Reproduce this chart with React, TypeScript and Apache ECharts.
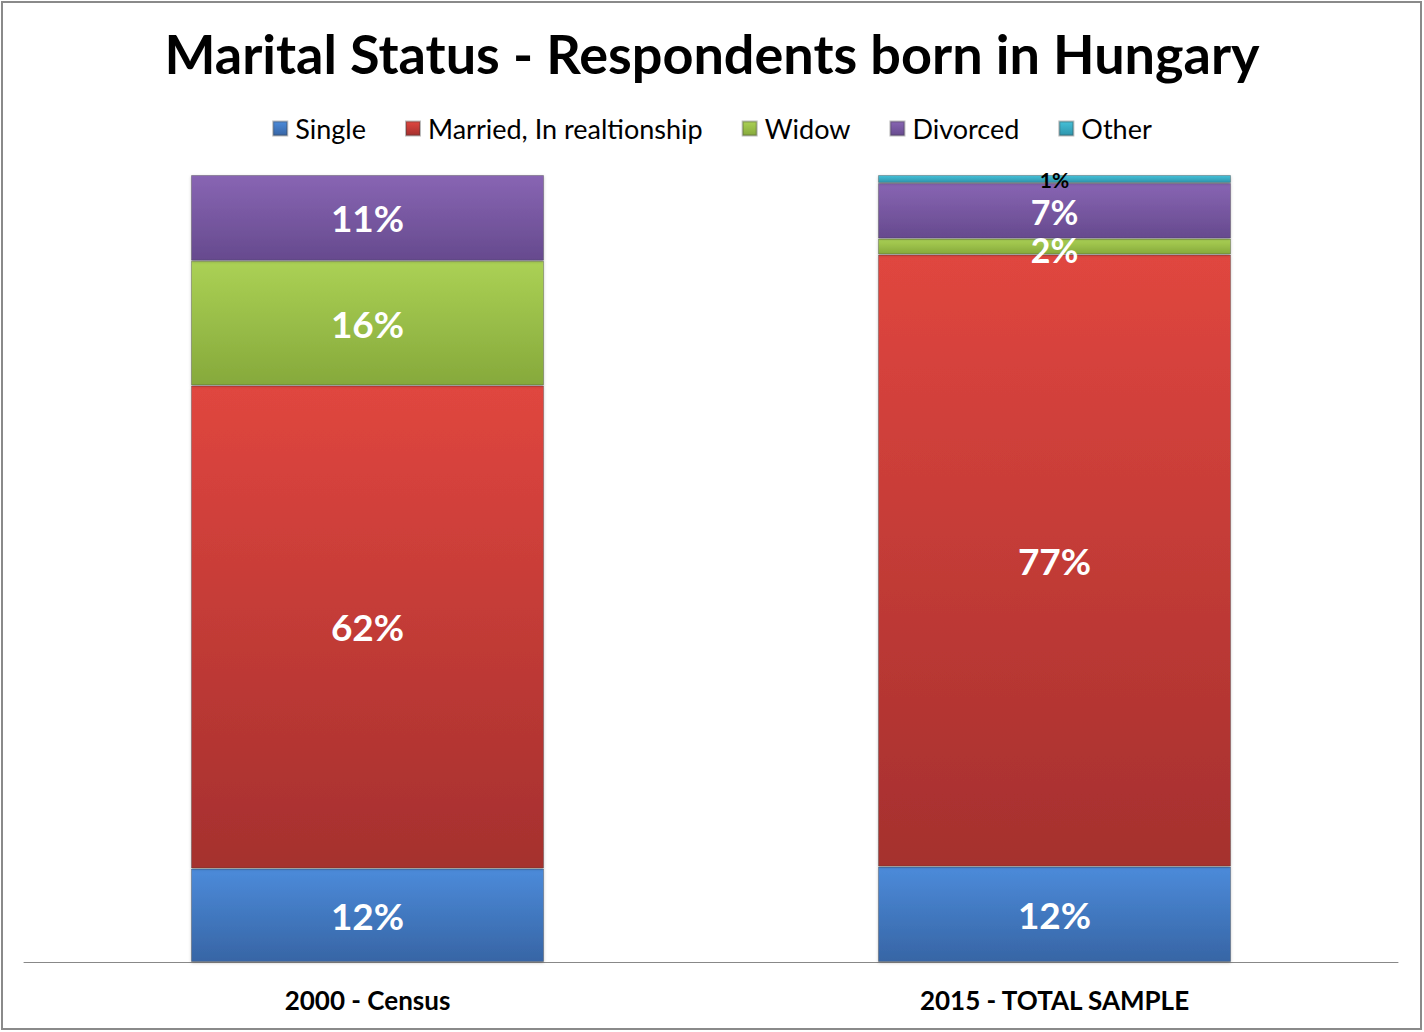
import React, { useEffect, useRef } from "react";
import * as echarts from "echarts";

const categories = ["2000 - Census", "2015 - TOTAL SAMPLE"];
const seriesNames = ["Single", "Married, In realtionship", "Widow", "Divorced", "Other"];
const single = [12, 12];
const married = [62, 77];
const widow = [16, 2];
const divorced = [11, 7];
const other = [0, 1];

const raw = [single, married, widow, divorced, other];
const topColors = ["#4C8BDA", "#E0463F", "#ABD155", "#8865B3", "#45C0D8"];
const bottomColors = ["#3765A5", "#A5302E", "#86A93B", "#664A8E", "#2E95AC"];

const FONT = "Lato, 'Open Sans', sans-serif";

export default function App() {
  const ref = useRef<HTMLDivElement>(null);
  useEffect(() => {
    document.body.style.margin = "0";
    const chart = echarts.init(ref.current!, null, { renderer: "svg" });
    const totals = categories.map((_, i) => raw.reduce((s, arr) => s + arr[i], 0));
    const series = seriesNames.map((name, k) => ({
      name,
      type: "bar",
      stack: "total",
      barWidth: 353,
      data: raw[k].map((v, i) => {
        const value = (v / totals[i]) * 100;
        // thin segments in the right bar: slightly tighter labels
        if (i === 1 && k === 3) return { value, label: { fontSize: 34, lineHeight: 32, offset: [0, 1] } };
        if (i === 1 && k === 2) return { value, label: { fontSize: 34, lineHeight: 32, offset: [0, 3] } };
        return value;
      }),
      itemStyle: {
        color: new echarts.graphic.LinearGradient(0, 0, 0, 1, [
          { offset: 0, color: topColors[k] },
          { offset: 1, color: bottomColors[k] },
        ]),
        borderColor: "rgba(60,60,60,0.35)",
        borderWidth: 1,
        shadowColor: "rgba(0,0,0,0.25)",
        shadowBlur: 3,
        shadowOffsetY: 1,
      },
      label: {
        show: true,
        position: "inside",
        fontFamily: FONT,
        fontWeight: "bold",
        fontSize: k === 4 ? 21 : 37,
        lineHeight: k === 4 ? 20 : 34,
        color: k === 4 ? "#000" : "#fff",
        offset: k === 4 ? [0, 1] : [0, 0],
        formatter: (p: any) => (raw[k][p.dataIndex] > 0 ? raw[k][p.dataIndex] + "%" : ""),
      },
    }));
    chart.setOption({
      animation: false,
      backgroundColor: "#fff",
      title: {
        text: "Marital Status - Respondents born in Hungary",
        left: "center",
        top: 21,
        textStyle: { fontFamily: FONT, fontWeight: "bold", fontSize: 54, color: "#000" },
      },
      legend: {
        top: 110,
        left: "center",
        icon: "rect",
        itemWidth: 14,
        itemHeight: 14,
        itemGap: 39,
        textStyle: { fontFamily: FONT, fontSize: 27, color: "#000", padding: [0, 0, 0, 3] },
        data: seriesNames,
      },
      grid: { left: 24, right: 26, top: 175, bottom: 70, containLabel: false },
      xAxis: {
        type: "category",
        data: categories,
        axisLine: { lineStyle: { color: "#888", width: 1 } },
        axisTick: { show: false },
        axisLabel: {
          fontFamily: FONT,
          fontWeight: "bold",
          fontSize: 26,
          color: "#000",
          margin: 25,
        },
      },
      yAxis: { type: "value", min: 0, max: 100, show: false, splitLine: { show: false } },
      graphic: [
        {
          type: "rect",
          shape: { x: 2, y: 2, width: 1419, height: 1027 },
          style: { fill: "none", stroke: "#8a8a8a", lineWidth: 2 },
          silent: true,
        },
      ],
      series,
    });
    return () => chart.dispose();
  }, []);
  return <div ref={ref} style={{ width: 1424, height: 1032 }} />;
}
